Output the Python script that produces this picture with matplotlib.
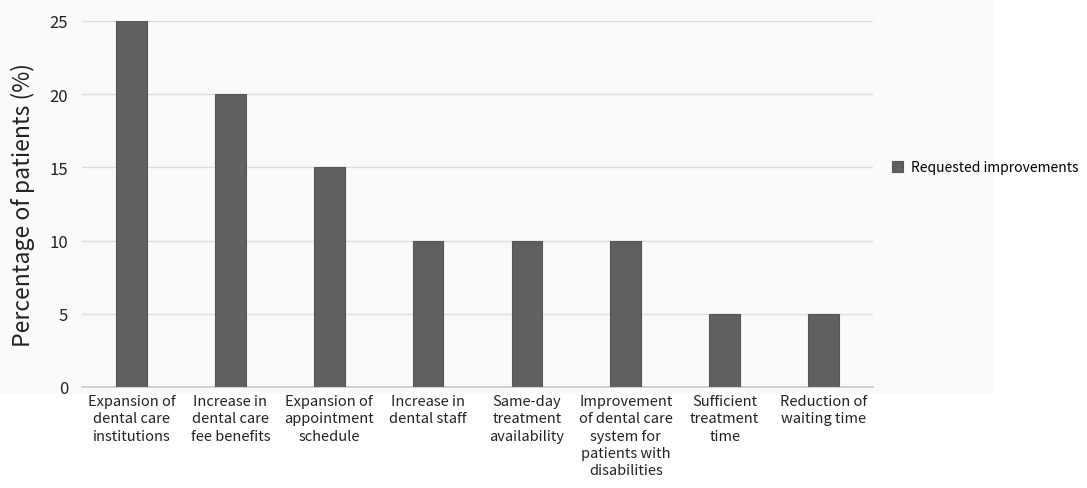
import numpy as np
import matplotlib
matplotlib.use('Agg')
from matplotlib import pyplot as plt
from matplotlib.patches import Rectangle

plt.rcParams['font.family'] = ['Noto Sans CJK KR', 'DejaVu Sans']

categories = ['Expansion of\ndental care\ninstitutions',
              'Increase in\ndental care\nfee benefits',
              'Expansion of\nappointment\nschedule',
              'Increase in\ndental staff',
              'Same-day\ntreatment\navailability',
              'Improvement\nof dental care\nsystem for\npatients with\ndisabilities',
              'Sufficient\ntreatment\ntime',
              'Reduction of\nwaiting time']
values = [25, 20, 15, 10, 10, 10, 5, 5]
yticks = [0, 5, 10, 15, 20, 25]

fig = plt.figure(figsize=(10.87, 4.89), dpi=100)
fig.patch.set_facecolor('white')
# faint panel behind the chart
fig.patches.append(Rectangle((0, 1 - 395/489), 995/1087, 395/489,
                             transform=fig.transFigure, facecolor='#fafafa',
                             edgecolor='none', zorder=-10))

ax = fig.add_axes([82/1087, 1 - 388/489, (873 - 82)/1087, (388 - 22)/489])
ax.set_facecolor('none')

x = np.arange(len(categories))
ax.bar(x, values, width=0.31, color='#606060', edgecolor='#555555', linewidth=0.8,
       label='Requested improvements', zorder=3)

ax.set_xlim(-0.5, len(categories) - 0.5)
ax.set_ylim(0, 25)
ax.set_yticks(yticks)
ax.set_yticklabels([str(v) for v in yticks], fontsize=12, color='#222222')
ax.set_xticks(x)
ax.set_xticklabels(categories, fontsize=10.5, color='#222222', linespacing=1.3)
ax.tick_params(axis='both', length=0)
ax.tick_params(axis='y', pad=10)
ax.tick_params(axis='x', pad=5)

ax.yaxis.grid(True, color='#dcdcdc', linewidth=1, zorder=0)
for side in ['top', 'right', 'left']:
    ax.spines[side].set_visible(False)
ax.spines['bottom'].set_color('#c8c8c8')
ax.spines['bottom'].set_linewidth(1.2)

ax.set_ylabel('Percentage of patients (%)', fontsize=16.5, color='#222222', labelpad=10)

ax.legend(loc='center left', bbox_to_anchor=(1.008, 0.6), frameon=False,
          fontsize=10, handlelength=0.8, handleheight=0.8, handletextpad=0.6)

fig.savefig('out.png', dpi=100, facecolor=fig.get_facecolor())
